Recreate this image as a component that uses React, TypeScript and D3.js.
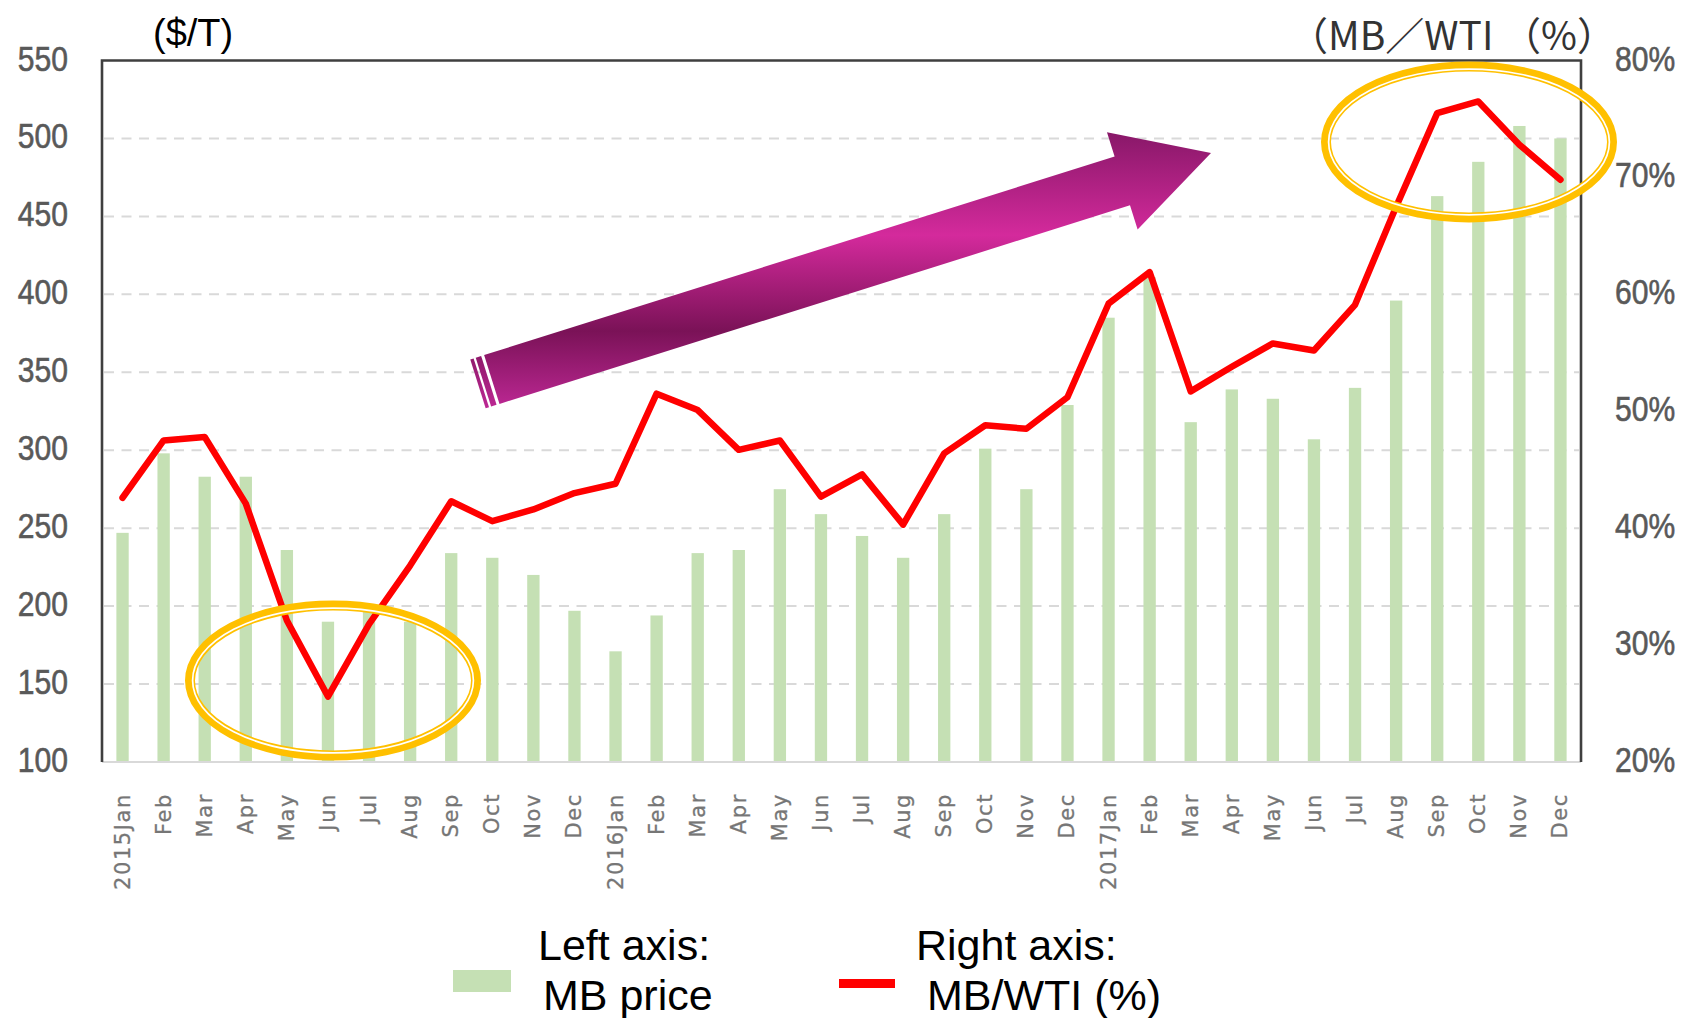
import React, { useEffect } from 'react';
import * as d3 from 'd3';

// ---------------- data ----------------
const monthLabels = [
  '2015Jan', 'Feb', 'Mar', 'Apr', 'May', 'Jun', 'Jul', 'Aug', 'Sep', 'Oct', 'Nov', 'Dec',
  '2016Jan', 'Feb', 'Mar', 'Apr', 'May', 'Jun', 'Jul', 'Aug', 'Sep', 'Oct', 'Nov', 'Dec',
  '2017Jan', 'Feb', 'Mar', 'Apr', 'May', 'Jun', 'Jul', 'Aug', 'Sep', 'Oct', 'Nov', 'Dec',
];
// Left axis: MB price ($/T)
const mbPrice = [
  247, 298, 283, 283, 236, 190, 198, 190, 234, 231, 220, 197,
  171, 194, 234, 236, 275, 259, 245, 231, 259, 301, 275, 329,
  385, 411, 318, 339, 333, 307, 340, 396, 463, 485, 508, 500,
];
// Right axis: MB/WTI (%)
const mbWtiRatio = [
  42.6, 47.5, 47.8, 42.1, 32.1, 25.6, 31.8, 36.8, 42.3, 40.6, 41.6, 43.0,
  43.8, 51.5, 50.1, 46.7, 47.5, 42.7, 44.6, 40.3, 46.4, 48.8, 48.5, 51.2,
  59.2, 61.9, 51.7, 53.8, 55.8, 55.2, 59.1, 67.5, 75.5, 76.5, 72.8, 69.8,
];
const leftTicks = [100, 150, 200, 250, 300, 350, 400, 450, 500, 550];
const rightTicks = [20, 30, 40, 50, 60, 70, 80];

const leftUnit = '($/T)';
const rightUnit = '（MB／WTI （%）';
const legendBar = ['Left axis:', 'MB price'];
const legendLine = ['Right axis:', 'MB/WTI (%)'];

// ---------------- layout ----------------
const W = 1691;
const H = 1018;
const plot = { left: 102, right: 1581, top: 60.5, bottom: 762 };

const BAR_COLOR = '#C5E0B4';
const LINE_COLOR = '#FF0000';
const GOLD = '#FFC000';
const ARIAL = "'Liberation Sans', Arial, sans-serif";

function DoubleEllipse({ cx, cy, rx, ry }: { cx: number; cy: number; rx: number; ry: number }) {
  return (
    <g fill="none">
      <ellipse cx={cx} cy={cy} rx={rx - 5} ry={ry - 5} stroke={GOLD} strokeWidth={10} />
      <ellipse cx={cx} cy={cy} rx={rx - 7.6} ry={ry - 7.6} stroke="#ffffff" strokeWidth={1.7} />
    </g>
  );
}

function Arrow() {
  const tail: [number, number] = [491.8, 379.5];
  const tip: [number, number] = [1211, 153];
  const dx0 = tip[0] - tail[0];
  const dy0 = tip[1] - tail[1];
  const len = Math.hypot(dx0, dy0);
  const ux = dx0 / len;
  const uy = dy0 / len;
  const nx = -uy;
  const ny = ux;
  const halfShaft = 25.6;
  const halfHead = 51;
  const headLen = 93;
  const p = (u: number, v: number) => `${tail[0] + u * ux + v * nx},${tail[1] + u * uy + v * ny}`;
  const base = len - headLen;
  const body = [
    p(0, -halfShaft), p(base, -halfShaft), p(base, -halfHead), p(len, 0),
    p(base, halfHead), p(base, halfShaft), p(0, halfShaft),
  ].join(' ');
  const stripe = (a: number, b: number) =>
    [p(a, -halfShaft), p(b, -halfShaft), p(b, halfShaft), p(a, halfShaft)].join(' ');
  return (
    <g>
      <defs>
        <linearGradient id="arrowGrad" gradientUnits="userSpaceOnUse" x1={0} y1={128} x2={0} y2={410}>
          <stop offset="0" stopColor="#851766" />
          <stop offset="0.38" stopColor="#D42A9C" />
          <stop offset="0.72" stopColor="#7A1257" />
          <stop offset="1" stopColor="#BE2895" />
        </linearGradient>
      </defs>
      <polygon points={body} fill="url(#arrowGrad)" />
      <polygon points={stripe(-8.8, -3.1)} fill="url(#arrowGrad)" />
      <polygon points={stripe(-14.5, -11)} fill="url(#arrowGrad)" />
    </g>
  );
}

function TickText({ x, y, anchor, children }: { x: number; y: number; anchor: 'start' | 'end'; children: React.ReactNode }) {
  return (
    <text
      transform={`translate(${x},${y}) scale(0.86,1)`}
      textAnchor={anchor}
      fontFamily={ARIAL}
      fontSize={35}
      fill="#595959"
      stroke="#595959"
      strokeWidth={0.6}
    >
      {children}
    </text>
  );
}

export default function App() {
  useEffect(() => {
    document.body.style.margin = '0';
  }, []);

  const x = d3
    .scaleBand<number>()
    .domain(d3.range(monthLabels.length))
    .range([plot.left, plot.right])
    .paddingInner(0.7)
    .paddingOuter(0.35);
  const yL = d3.scaleLinear().domain([100, 550]).range([plot.bottom, plot.top]);
  const yR = d3.scaleLinear().domain([20, 80]).range([plot.bottom, plot.top]);
  const cx = (i: number) => (x(i) as number) + x.bandwidth() / 2;

  const linePath = d3
    .line<number>()
    .x((_, i) => cx(i))
    .y((d) => yR(d))(mbWtiRatio) as string;

  return (
    <svg
      width={W}
      height={H}
      style={{ position: 'absolute', left: 0, top: 0, display: 'block', background: '#fff' }}
    >
      <rect x={0} y={0} width={W} height={H} fill="#ffffff" />

      {/* gridlines */}
      {leftTicks
        .filter((t) => t !== 100 && t !== 550)
        .map((t) => (
          <line
            key={`g${t}`}
            x1={plot.left + 2}
            x2={plot.right - 2}
            y1={yL(t)}
            y2={yL(t)}
            stroke="#d9d9d9"
            strokeWidth={2}
            strokeDasharray="10 7.5"
          />
        ))}

      {/* bars */}
      {mbPrice.map((v, i) => (
        <rect
          key={`b${i}`}
          x={x(i)}
          y={yL(v)}
          width={x.bandwidth()}
          height={yL(100) - yL(v)}
          fill={BAR_COLOR}
        />
      ))}

      {/* frame */}
      <line x1={plot.left} x2={plot.right} y1={plot.bottom} y2={plot.bottom} stroke="#d9d9d9" strokeWidth={2} />
      <path
        d={`M${plot.left},${plot.bottom}V${plot.top}H${plot.right}V${plot.bottom}`}
        fill="none"
        stroke="#3f3f3f"
        strokeWidth={2.6}
      />

      {/* left ticks */}
      {leftTicks.map((t) => (
        <TickText key={`l${t}`} x={68} y={yL(t) + 10} anchor="end">
          {t}
        </TickText>
      ))}
      {/* right ticks */}
      {rightTicks.map((t) => (
        <TickText key={`r${t}`} x={1615} y={yR(t) + 10} anchor="start">
          {`${t}%`}
        </TickText>
      ))}

      {/* x labels */}
      {monthLabels.map((m, i) => (
        <text
          key={`x${i}`}
          transform={`translate(${cx(i)},${793}) rotate(-90)`}
          textAnchor="end"
          dominantBaseline="central"
          fontFamily="'DejaVu Sans', sans-serif"
          fontSize={21}
          letterSpacing={1.6}
          fill="#767676"
          stroke="#767676"
          strokeWidth={0.3}
        >
          {m}
        </text>
      ))}

      {/* ratio line */}
      <path d={linePath} fill="none" stroke={LINE_COLOR} strokeWidth={6.5} strokeLinejoin="round" strokeLinecap="round" />

      {/* annotations */}
      <Arrow />
      <DoubleEllipse cx={333} cy={680.5} rx={148} ry={80} />
      <DoubleEllipse cx={1469} cy={142} rx={148} ry={80.5} />

      {/* unit labels */}
      <text x={153} y={46} fontFamily={ARIAL} fontSize={38} fill="#000">
        {leftUnit}
      </text>
      <text x={1289} y={50} fontFamily="'Noto Sans CJK JP', sans-serif" fontSize={39} fill="#333333">
        {rightUnit}
      </text>

      {/* legend */}
      <rect x={453} y={970} width={58} height={22} fill={BAR_COLOR} />
      <text x={538} y={960} fontFamily={ARIAL} fontSize={43} fill="#000">
        {legendBar[0]}
      </text>
      <text x={543} y={1010} fontFamily={ARIAL} fontSize={43} fill="#000">
        {legendBar[1]}
      </text>
      <line x1={839} x2={895} y1={983.5} y2={983.5} stroke={LINE_COLOR} strokeWidth={9} />
      <text x={916} y={960} fontFamily={ARIAL} fontSize={43} fill="#000">
        {legendLine[0]}
      </text>
      <text x={927} y={1010} fontFamily={ARIAL} fontSize={43} fill="#000">
        {legendLine[1]}
      </text>
    </svg>
  );
}
